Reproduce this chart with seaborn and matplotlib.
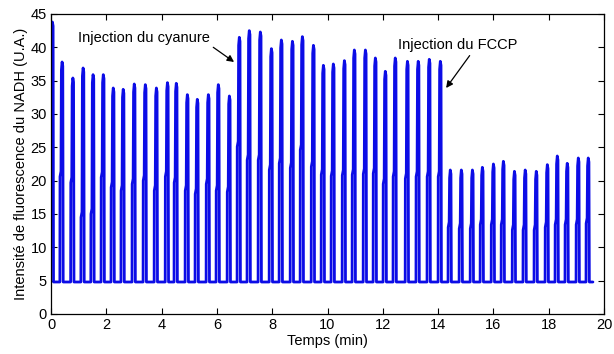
import numpy as np
import pandas as pd
import seaborn as sns
import matplotlib.pyplot as plt

# pulse times (min), peak heights and shoulder levels
pulse_times = [0.04, 0.39, 0.78, 1.15, 1.51, 1.88, 2.24, 2.60, 3.00, 3.40, 3.80,
               4.20, 4.52, 4.92, 5.28, 5.68, 6.04, 6.44,
               6.80, 7.16, 7.56, 7.96, 8.32, 8.72, 9.08, 9.48, 9.84, 10.20,
               10.60, 10.96, 11.36, 11.72, 12.08, 12.44, 12.88, 13.27, 13.67, 14.07,
               14.43, 14.83, 15.23, 15.59, 15.99, 16.35, 16.75, 17.14, 17.54,
               17.94, 18.30, 18.66, 19.06, 19.42]
pulse_peaks = [43.8, 37.8, 35.4, 36.9, 35.9, 35.9, 33.9, 33.7, 34.5, 34.4, 33.9,
               34.7, 34.6, 32.9, 32.2, 32.9, 34.4, 32.7,
               41.5, 42.5, 42.3, 39.8, 41.1, 40.9, 41.6, 40.3, 37.3, 37.5,
               38.0, 39.6, 39.6, 38.4, 36.4, 38.4, 37.9, 37.9, 38.2, 37.9,
               21.6, 21.6, 21.6, 22.0, 22.5, 22.9, 21.4, 21.6, 21.4,
               22.4, 23.7, 22.6, 23.4, 23.4]
pulse_mids = [22.5, 20.6, 19.7, 14.5, 15.0, 20.5, 19.0, 18.5, 19.5, 20.0, 18.5,
              20.6, 19.7, 18.5, 18.0, 19.5, 18.5, 18.3,
              25.1, 23.1, 23.1, 21.6, 22.6, 21.9, 24.6, 22.1, 20.9, 20.7,
              20.8, 20.9, 21.0, 21.1, 19.5, 20.6, 20.3, 20.6, 20.6, 20.6,
              13.0, 12.8, 12.8, 13.4, 13.4, 13.4, 12.6, 12.6, 12.6,
              13.0, 13.4, 13.4, 13.4, 13.6]
baseline = 4.8
t_end = 19.6

# one pulse: step up to the shoulder, spike to the peak, drop back to baseline
shape_dt = [-0.07, -0.065, -0.03, -0.015, 0.01, 0.035, 0.05]


def build_trace():
    t, y = [], []
    for tp, pk, md in zip(pulse_times, pulse_peaks, pulse_mids):
        vals = [baseline, md, md + 0.8, pk - 1.2, pk, pk - 0.6, baseline]
        for dt, v in zip(shape_dt, vals):
            t.append(tp + dt)
            y.append(v)
    t.append(t_end)
    y.append(baseline)
    return pd.DataFrame({"Temps": t, "NADH": y})


df = build_trace()

sns.set_style("ticks")
plt.rcParams["font.family"] = ["Liberation Sans", "DejaVu Sans"]
plt.rcParams["font.size"] = 10.5
plt.rcParams["text.color"] = "black"
plt.rcParams["axes.labelcolor"] = "black"

fig = plt.figure(figsize=(6.14, 3.54), dpi=100)
ax = fig.add_axes([0.0831, 0.113, 0.9006, 0.8475])

sns.lineplot(data=df, x="Temps", y="NADH", ax=ax, color="#0c0ce6",
             linewidth=2.0, estimator=None, sort=False)

ax.set_xlim(0, 20)
ax.set_ylim(0, 45)
ax.set_xticks(np.arange(0, 21, 2))
ax.set_yticks(np.arange(0, 46, 5))
ax.tick_params(direction="in", top=True, right=True, length=4, width=0.8,
               labelsize=10.5, pad=3, colors="black")
for sp in ax.spines.values():
    sp.set_visible(True)
    sp.set_linewidth(0.9)
    sp.set_color("black")

ax.set_xlabel("Temps (min)", fontsize=10.5, labelpad=1)
ax.set_ylabel("Intensité de fluorescence du NADH (U.A.)", fontsize=10.5, labelpad=2)

ax.annotate("Injection du cyanure", xy=(6.62, 37.8), xytext=(0.98, 41.4),
            va="center", ha="left", fontsize=10.5,
            arrowprops=dict(arrowstyle="-|>", color="black", lw=0.9,
                            shrinkA=0, shrinkB=0, mutation_scale=10,
                            relpos=(1.0, 0.0)))
ax.annotate("Injection du FCCP", xy=(14.29, 33.9), xytext=(12.55, 40.3),
            va="center", ha="left", fontsize=10.5,
            arrowprops=dict(arrowstyle="-|>", color="black", lw=0.9,
                            shrinkA=0, shrinkB=0, mutation_scale=10,
                            relpos=(0.62, 0.0)))

fig.savefig("out.png", dpi=100)
plt.close(fig)
